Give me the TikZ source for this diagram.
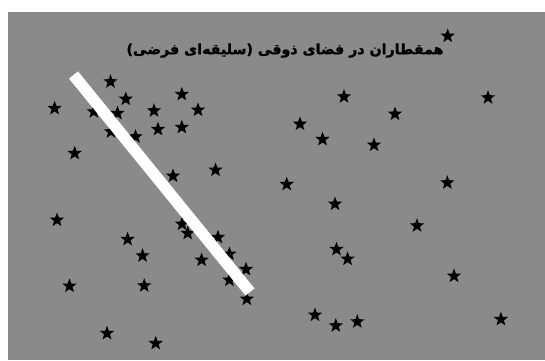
\documentclass[tikz,border=0pt]{standalone}
\usepackage{fontspec}
\usetikzlibrary{shapes.geometric}
\newfontfamily\arabicfont[Script=Arabic, BoldFont={DejaVu Sans Bold}, BoldFeatures={FakeBold=1.5}]{DejaVu Sans}
\TeXXeTstate=1
\definecolor{bggray}{RGB}{138,138,138}
\tikzset{
  starmark/.style={star, star points=5, star point ratio=2.4, fill=black, draw=none, minimum size=15pt, inner sep=0pt},
  barline/.style={draw=white, line width=11.5pt, line cap=butt},
  titletext/.style={font=\arabicfont\bfseries\fontsize{14.2}{17}\selectfont, text=black, inner sep=0pt}
}
\begin{document}
\begin{tikzpicture}[x=1pt,y=-1pt]
\useasboundingbox (0,0) rectangle (545,360);
\fill[white] (0,0) rectangle (545,360);
\fill[bggray] (8,12) rectangle (545,360);
\foreach \n/\x/\y in {1/447.7/36, 2/110.5/81.7, 3/125.8/99, 4/54.6/108.3, 5/181.8/94.3, 6/154/110.7, 7/198/110, 8/158/129.3, 9/181.8/127.3, 10/93.8/111.7, 11/117.5/113.3, 12/111/131.7, 13/135.5/136.7, 14/74.7/153.3, 15/344/96.7, 16/488/97.7, 17/395/114, 18/300/124, 19/322.5/139.3, 20/374/145, 21/173/176, 22/215.5/170, 23/286.7/184.3, 24/447.3/182.7, 25/335/204, 26/57/220, 27/417/225.7, 28/127.6/239.3, 29/182/224, 30/187.7/233.3, 31/218/237.3, 32/142.5/255.7, 33/201.6/260, 34/229.4/254, 35/336.5/249.3, 36/347.6/259, 37/246/269.3, 38/69.5/286, 39/144.2/285.7, 40/454/276, 41/246.8/299, 42/229.4/280, 43/315/315, 44/335.8/325.7, 45/357.3/321.7, 46/500.9/319.3, 47/107/333.3, 48/155.7/343.3}
  \node[starmark] (s\n) at (\x,\y) {};
\coordinate (barA) at (73.5,75);
\coordinate (barB) at (250,292);
\draw[barline] (barA) -- (barB);
\node[titletext] (title) at (285,50.5) {\beginR همقطاران در فضای ذوقی (سلیقه‌ای فرضی)\endR};
\end{tikzpicture}
\end{document}
